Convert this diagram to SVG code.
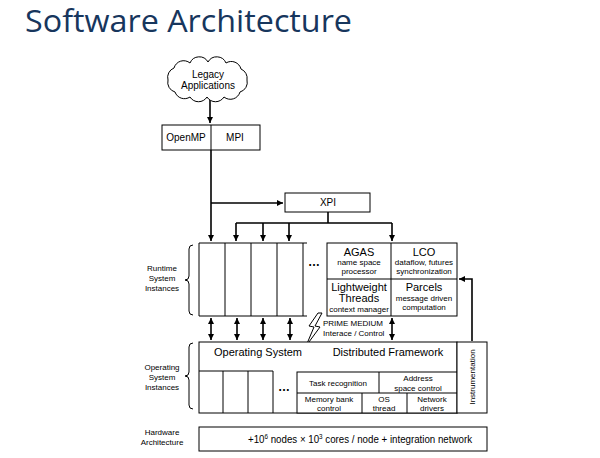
<svg xmlns="http://www.w3.org/2000/svg" width="600" height="458" viewBox="0 0 600 458">
<defs>
<marker id="ah" viewBox="0 0 10 10" refX="10" refY="5" markerWidth="6" markerHeight="6" orient="auto-start-reverse" markerUnits="userSpaceOnUse">
<path d="M0,0 L10,5 L0,10 Z" fill="#000"/>
</marker>
<style>
.b{fill:#fff;stroke:#000;stroke-width:1}
.l{fill:none;stroke:#000;stroke-width:1}
.c{stroke:#000;stroke-width:1.6;fill:none}
.t{font-family:"Liberation Sans",Arial,sans-serif;fill:#000;text-anchor:middle}
.st{text-anchor:start}
.m{font-size:11px}
.s{font-size:8px}
.lab{font-size:8px}
</style>
</defs>
<rect width="600" height="458" fill="#fff"/>
<text x="25" y="32" font-family="'Open Sans',sans-serif" font-size="31" fill="#17365d" textLength="327" lengthAdjust="spacingAndGlyphs">Software Architecture</text>

<g id="connectors">
<path class="c" d="M210,97 V123" marker-end="url(#ah)"/>
<path class="c" d="M211,150 V241" marker-end="url(#ah)"/>
<path class="c" d="M211,203 H283" marker-end="url(#ah)"/>
<path class="c" d="M328,212 V223 M236,223 H392"/>
<path class="c" d="M236,223 V241" marker-end="url(#ah)"/>
<path class="c" d="M263,223 V241" marker-end="url(#ah)"/>
<path class="c" d="M289,223 V241" marker-end="url(#ah)"/>
<path class="c" d="M392,223 V241" marker-end="url(#ah)"/>
<path class="c" d="M211,318 V340" marker-start="url(#ah)" marker-end="url(#ah)"/>
<path class="c" d="M237,318 V340" marker-start="url(#ah)" marker-end="url(#ah)"/>
<path class="c" d="M263,318 V340" marker-start="url(#ah)" marker-end="url(#ah)"/>
<path class="c" d="M290,318 V340" marker-start="url(#ah)" marker-end="url(#ah)"/>
<path class="c" d="M392,318 V340" marker-start="url(#ah)" marker-end="url(#ah)"/>
<path class="c" d="M472,341 V279 H459" marker-end="url(#ah)"/>
</g>

<g id="legacy">
<path class="b" d="M168,80 A10,10 0 0 1 174,68 A10,10 0 0 1 190,63 A10,10 0 0 1 208,62 A10,10 0 0 1 226,63 A10,10 0 0 1 241,69 A10,10 0 0 1 247,80 A10,10 0 0 1 240,92 A10,10 0 0 1 224,97 A10,10 0 0 1 207,97 A10,10 0 0 1 190,97 A10,10 0 0 1 175,92 A10,10 0 0 1 168,80 Z"/>
<text class="t" x="208" y="78" font-size="10">Legacy</text>
<text class="t" x="208" y="89" font-size="10">Applications</text>
</g>

<g id="openmp-mpi">
<rect class="b" x="162" y="125" width="98" height="25"/>
<line class="l" x1="211" y1="125" x2="211" y2="150"/>
<text class="t" x="186" y="141" font-size="10">OpenMP</text>
<text class="t" x="235" y="141" font-size="10">MPI</text>
</g>

<g id="xpi">
<rect class="b" x="285" y="193" width="85" height="19"/>
<text class="t" x="328" y="206" font-size="10">XPI</text>
</g>

<g id="runtime-label">
<text class="t lab" x="162" y="271">Runtime</text>
<text class="t lab" x="162" y="281">System</text>
<text class="t lab" x="162" y="291">Instances</text>
<path class="l" stroke-width="1.5" d="M193,245 q-4,0 -4,4 v27 q0,4 -4,4 q4,0 4,4 v27 q0,4 4,4"/>
</g>

<g id="runtime-columns">
<path class="l" d="M199,243 H307 M199,316 H307 M199,243 V316 M225,243 V316 M251,243 V316 M277,243 V316 M303,243 V316"/>
<text class="t" x="314" y="266" font-size="12" font-weight="bold">…</text>
</g>

<g id="runtime-table">
<rect class="b" x="327" y="243" width="130" height="73"/>
<line class="l" x1="391" y1="243" x2="391" y2="316"/>
<line class="l" x1="327" y1="279" x2="457" y2="279"/>
<text class="t m" x="359" y="256">AGAS</text>
<text class="t s" x="359" y="265">name space</text>
<text class="t s" x="359" y="274">processor</text>
<text class="t m" x="424" y="256">LCO</text>
<text class="t s" x="424" y="265">dataflow, futures</text>
<text class="t s" x="424" y="274">synchronization</text>
<text class="t m" x="359" y="291">Lightweight</text>
<text class="t m" x="359" y="302">Threads</text>
<text class="t s" x="359" y="312">context manager</text>
<text class="t m" x="424" y="291">Parcels</text>
<text class="t s" x="424" y="301">message driven</text>
<text class="t s" x="424" y="310">computation</text>
</g>

<g id="prime-medium">
<path class="b" d="M318,313 L309,326 L314,327 L306,346 L320,327 L315,326 L322,313 Z"/>
<text class="t st" x="323" y="326" font-size="8">PRIME MEDIUM</text>
<text class="t st" x="323" y="336" font-size="8">Interace / Control</text>
</g>

<g id="os-label">
<text class="t lab" x="162" y="370">Operating</text>
<text class="t lab" x="162" y="380">System</text>
<text class="t lab" x="162" y="390">Instances</text>
<path class="l" stroke-width="1.5" d="M193,343 q-4,0 -4,4 v25 q0,4 -4,4 q4,0 4,4 v25 q0,4 4,4"/>
</g>

<g id="operating-system">
<rect class="b" x="199" y="342" width="258" height="71"/>
<text class="t" x="258" y="356" font-size="11">Operating System</text>
<text class="t" x="388" y="356" font-size="11">Distributed Framework</text>
<path class="l" d="M199,371 H273 M223,371 V413 M248,371 V413 M273,371 V413"/>
<text class="t" x="284" y="391" font-size="12" font-weight="bold">…</text>
</g>

<g id="framework-table">
<rect class="b" x="297" y="372" width="160" height="41"/>
<line class="l" x1="297" y1="393" x2="457" y2="393"/>
<line class="l" x1="379" y1="372" x2="379" y2="393"/>
<line class="l" x1="362" y1="393" x2="362" y2="413"/>
<line class="l" x1="407" y1="393" x2="407" y2="413"/>
<text class="t s" x="338" y="386">Task recognition</text>
<text class="t s" x="418" y="381">Address</text>
<text class="t s" x="418" y="391">space control</text>
<text class="t s" x="329" y="402">Memory bank</text>
<text class="t s" x="329" y="411">control</text>
<text class="t s" x="384" y="402">OS</text>
<text class="t s" x="384" y="411">thread</text>
<text class="t s" x="432" y="402">Network</text>
<text class="t s" x="432" y="411">drivers</text>
</g>

<g id="instrumentation">
<rect class="b" x="457" y="342" width="30" height="71"/>
<text class="t s" transform="translate(475,377) rotate(-90)">Instrumentation</text>
</g>

<g id="hardware">
<text class="t lab" x="162" y="435">Hardware</text>
<text class="t lab" x="162" y="445">Architecture</text>
<rect class="b" x="199" y="427" width="288" height="24"/>
<text class="t" x="360" y="443" font-family="'DejaVu Sans',sans-serif" font-size="10" textLength="224" lengthAdjust="spacingAndGlyphs">+10<tspan font-size="6.5" dy="-4">6</tspan><tspan dy="4"> nodes × 10</tspan><tspan font-size="6.5" dy="-4">3</tspan><tspan dy="4"> cores / node + integration network</tspan></text>
</g>
</svg>
